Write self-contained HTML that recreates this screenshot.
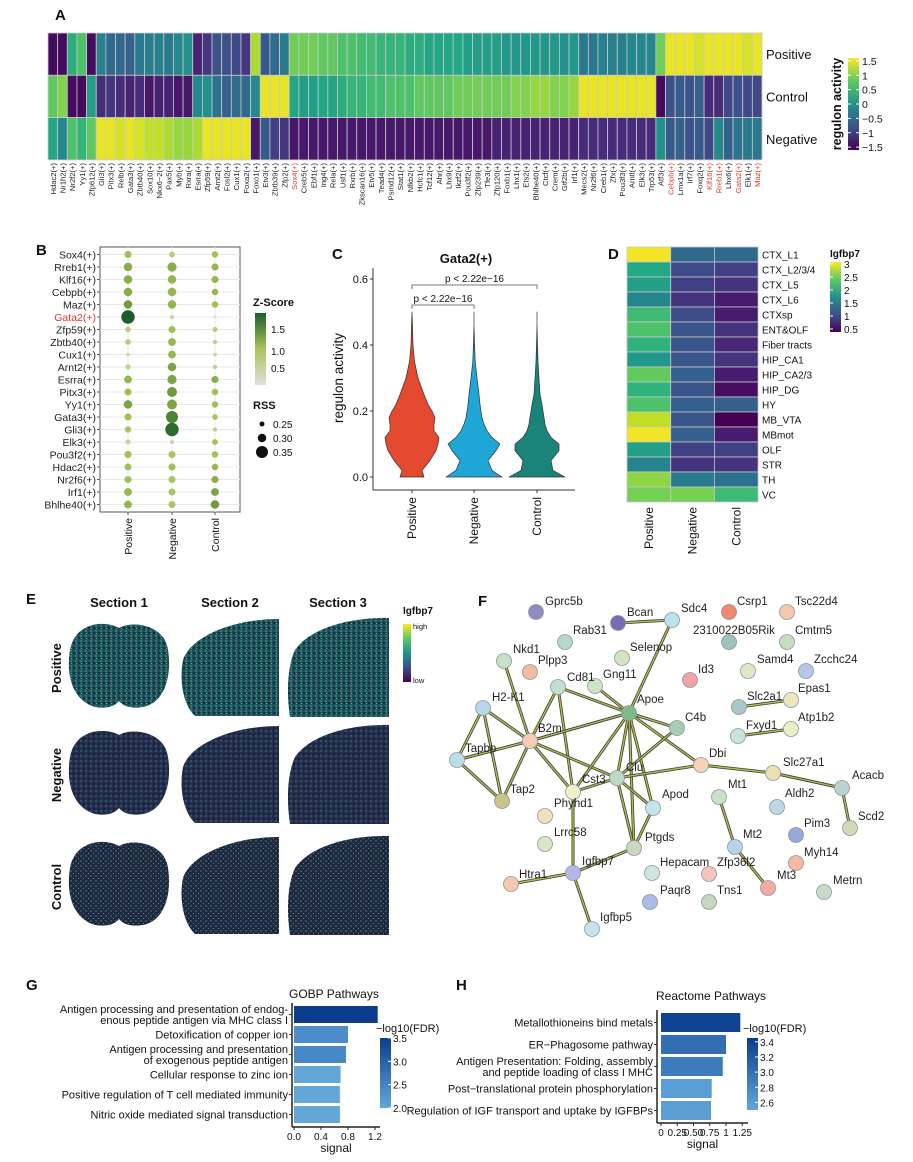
<!DOCTYPE html>
<html><head><meta charset="utf-8">
<style>
html,body{margin:0;padding:0;background:#fff;}
svg{display:block;font-family:"Liberation Sans",Arial,sans-serif;}
</style></head>
<body>
<svg id="fig" width="913" height="1162" viewBox="0 0 913 1162" xmlns="http://www.w3.org/2000/svg">
<defs>
<pattern id="patPos" width="5" height="5" patternUnits="userSpaceOnUse"><rect width="5" height="5" fill="#1f4f5c"/><rect x="0" y="0" width="2" height="2" fill="#2a7f74"/><rect x="3" y="2" width="2" height="2" fill="#1b2a44"/><rect x="1" y="3" width="1" height="1" fill="#58b866"/></pattern>
<pattern id="patNeg" width="5" height="5" patternUnits="userSpaceOnUse"><rect width="5" height="5" fill="#272c4c"/><rect x="0" y="0" width="2" height="2" fill="#22586a"/><rect x="3" y="3" width="2" height="2" fill="#1c1f38"/></pattern>
<pattern id="patCtl" width="5" height="5" patternUnits="userSpaceOnUse"><rect width="5" height="5" fill="#24263f"/><rect x="0" y="0" width="2" height="2" fill="#1f5a66"/><rect x="3" y="3" width="1" height="1" fill="#3f9a6a"/></pattern>
<linearGradient id="gVir" x1="0" y1="1" x2="0" y2="0">
<stop offset="0" stop-color="#440154"/><stop offset="0.25" stop-color="#3b528b"/><stop offset="0.5" stop-color="#21918c"/><stop offset="0.75" stop-color="#5ec962"/><stop offset="1" stop-color="#fde725"/></linearGradient>
<linearGradient id="gGreen" x1="0" y1="1" x2="0" y2="0"><stop offset="0" stop-color="#e0e0e0"/><stop offset="0.5" stop-color="#a8c45a"/><stop offset="1" stop-color="#1b5e2b"/></linearGradient>
<linearGradient id="gBlue" x1="0" y1="1" x2="0" y2="0"><stop offset="0" stop-color="#63a6d8"/><stop offset="1" stop-color="#0b3d8c"/></linearGradient>
</defs>
</svg>
<script>
// ---------- DATA ----------
const aLabels=["Hdac2(+)","Nr1h2(+)","Nr2f2(+)","Yy1(+)","Zfp612(+)","Gli3(+)","Pitx3(+)","Relb(+)","Gata3(+)","Zbtb40(+)","Sox10(+)","Nkx6−2(+)","Pax5(+)","Myb(+)","Rxra(+)","Esrra(+)","Zfp59(+)","Arnt2(+)","Fosl2(+)","Cux1(+)","Foxa2(+)","Foxo1(+)","Etv3(+)","Zbtb39(+)","Zfp2(+)","Sox4(+)","Creb5(+)","Ebf1(+)","Ing4(+)","Rela(+)","Usf1(+)","Rxrb(+)","Zkscan16(+)","Etv5(+)","Tead4(+)","Psmd12(+)","Stat1(+)","Nfkb2(+)","Hcfc1(+)","Tcf12(+)","Ahr(+)","Lhx9(+)","Ikzf2(+)","Pou3f2(+)","Zfp239(+)","Tfe3(+)","Zfp120(+)","Foxb1(+)","Lhx1(+)","Ets2(+)","Bhlhe40(+)","Ctcf(+)","Crem(+)","Gtf2b(+)","Irf1(+)","Mecs2(+)","Nr2f6(+)","Creb1(+)","Zfx(+)","Pou3f3(+)","Arntl(+)","Elk3(+)","Trp53(+)","Atf3(+)","Cebpb(+)","Lmx1a(+)","Irf7(+)","Foxq2(+)","Klf16(+)","Rreb1(+)","Lhx6(+)","Gata2(+)","Elk1(+)","Maz(+)"];
const aRed=["Sox4(+)","Cebpb(+)","Klf16(+)","Rreb1(+)","Gata2(+)","Maz(+)"];
const aRows=["Positive","Control","Negative"];
const aPositive=[-1.5,-1.5,0.4,0.7,-1.5,-0.2,-0.5,-0.5,-0.6,-0.3,-0.2,-0.2,-0.3,-0.1,0.0,-1.3,-1.1,-0.8,-0.8,-0.9,-1.1,1.2,-0.7,-0.5,-0.3,0.9,
0.9,0.9,0.8,0.8,0.7,0.7,0.6,0.6,0.5,0.5,0.5,0.4,0.4,0.3,
0.3,0.3,0.3,0.2,0.2,0.2,0.2,0.1,0.1,0.1,0.1,0.1,0.1,0.0,0.1,
-0.3,-0.3,-0.2,-0.2,-0.2,-0.1,-0.1,-0.1,0.9,
1.5,1.5,1.5,1.4,1.5,1.5,1.5,1.5,1.4,1.5];
const aControl=[0.8,1.0,-1.5,-1.5,0.2,-1.2,-1.1,-1.2,-1.3,-1.2,-1.4,-1.3,-1.3,-1.4,-1.4,-0.1,0.0,-0.4,-0.6,-0.5,-0.5,-0.1,1.5,1.5,1.5,0.3,
0.2,0.2,0.3,0.3,0.4,0.5,0.5,0.6,0.6,0.7,0.7,0.7,0.8,0.8,
0.8,0.8,0.9,0.9,0.9,0.9,0.9,0.9,1.0,1.0,1.1,1.1,1.0,1.0,1.1,
1.5,1.5,1.5,1.5,1.5,1.5,1.5,1.5,-1.5,
-0.8,-0.7,-0.8,-0.6,-1.2,-1.2,-0.9,-0.8,-0.9,-0.9];
const aNegative=[0.3,-0.1,0.7,0.5,0.8,1.5,1.5,1.4,1.5,1.4,1.3,1.3,1.2,1.1,1.1,1.2,1.5,1.5,1.5,1.5,1.5,-1.4,-0.7,-1.0,-1.1,-1.4,
-1.4,-1.4,-1.4,-1.4,-1.4,-1.4,-1.4,-1.4,-1.4,-1.4,-1.4,-1.4,-1.4,-1.4,
-1.4,-1.4,-1.4,-1.4,-1.4,-1.4,-1.3,-1.3,-1.3,-1.3,-1.3,-1.3,-1.3,-1.3,-1.3,
-1.2,-1.2,-1.2,-1.2,-1.2,-1.2,-1.2,-1.2,0.0,
-0.7,-0.6,-0.8,-0.7,-0.9,-0.1,-0.6,-0.4,-0.3,-0.3];
const aTicks=[1.5,1,0.5,0,-0.5,-1,-1.5];

const bRegulons=["Sox4(+)","Rreb1(+)","Klf16(+)","Cebpb(+)","Maz(+)","Gata2(+)","Zfp59(+)","Zbtb40(+)","Cux1(+)","Arnt2(+)","Esrra(+)","Pitx3(+)","Yy1(+)","Gata3(+)","Gli3(+)","Elk3(+)","Pou3f2(+)","Hdac2(+)","Nr2f6(+)","Irf1(+)","Bhlhe40(+)"];
const bGroups=["Positive","Negative","Control"];
const bZPos=[1.0,1.2,1.2,1.2,1.4,1.9,0.7,0.7,0.4,0.6,1.1,1.0,1.3,1.0,0.9,0.5,1.0,1.0,1.0,1.1,1.1];
const bZNeg=[0.7,1.2,1.1,1.1,1.1,0.4,1.0,1.1,1.1,1.3,1.3,1.4,1.3,1.6,1.8,0.4,0.9,1.0,0.9,0.9,0.9];
const bZCtl=[1.0,1.1,1.1,1.1,1.0,0.1,0.7,0.6,0.5,0.6,1.2,1.0,1.0,0.9,0.6,1.0,1.0,1.1,1.2,1.3,1.4];
const bRPos=[0.28,0.30,0.30,0.30,0.30,0.37,0.26,0.26,0.23,0.25,0.29,0.28,0.30,0.28,0.27,0.25,0.28,0.28,0.28,0.29,0.29];
const bRNeg=[0.26,0.31,0.30,0.30,0.30,0.24,0.28,0.29,0.29,0.30,0.31,0.32,0.32,0.35,0.37,0.24,0.28,0.28,0.28,0.28,0.28];
const bRCtl=[0.27,0.28,0.28,0.27,0.27,0.20,0.25,0.24,0.23,0.24,0.28,0.27,0.27,0.26,0.24,0.26,0.27,0.27,0.28,0.29,0.30];

const cGroups=["Positive","Negative","Control"];
const cYGrid=[0,0.02,0.05,0.08,0.10,0.12,0.14,0.16,0.18,0.20,0.22,0.25,0.30,0.35,0.40,0.46,0.50];
const cDensPos=[12,10,18,24,26,27,22,22,23,20,16,12,6,2.5,1,0.5,0];
const cDensNeg=[28,18,14,22,26,18,13,10,8,7,6,5,3,1.2,0.6,0,0];
const cDensCtl=[28,16,14,22,22,14,10,8,7,6,5,3,2,1,0.5,0,0];
const cYTicks=[0.0,0.2,0.4,0.6];

const dRegions=["CTX_L1","CTX_L2/3/4","CTX_L5","CTX_L6","CTXsp","ENT&OLF","Fiber tracts","HIP_CA1","HIP_CA2/3","HIP_DG","HY","MB_VTA","MBmot","OLF","STR","TH","VC"];
const dGroups=["Positive","Negative","Control"];
const dPos=[3.0,2.0,1.9,1.6,2.2,2.3,2.1,1.8,2.4,2.1,2.3,2.8,3.0,1.9,1.6,2.6,2.5];
const dNeg=[1.3,1.0,0.9,0.8,1.0,1.1,1.1,1.1,1.2,1.1,1.2,1.1,1.2,0.9,0.8,1.5,2.5];
const dCtl=[1.3,0.9,0.8,0.6,0.6,0.8,0.7,0.8,0.6,0.5,1.2,0.4,0.6,0.9,0.8,1.4,2.2];
const dTicks=[3,2.5,2,1.5,1,0.5];

const gTerms=[["Antigen processing and presentation of endog-","enous peptide antigen via MHC class I"],["Detoxification of copper ion"],["Antigen processing and presentation","of exogenous peptide antigen"],["Cellular response to zinc ion"],["Positive regulation of T cell mediated immunity"],["Nitric oxide mediated signal transduction"]];
const gSignal=[1.24,0.80,0.77,0.69,0.68,0.68];
const gFDR=[3.5,2.5,2.6,2.0,2.0,2.0];
const gXTicks=[0,0.4,0.8,1.2];
const gXTickLabels=["0.0","0.4","0.8","1.2"];
const gLegTicks=[3.5,3.0,2.5,2.0];

const hTerms=[["Metallothioneins bind metals"],["ER−Phagosome pathway"],["Antigen Presentation: Folding, assembly","and peptide loading of class I MHC"],["Post−translational protein phosphorylation"],["Regulation of IGF transport and uptake by IGFBPs"]];
const hSignal=[1.22,1.0,0.95,0.78,0.77];
const hFDR=[3.4,3.1,3.0,2.6,2.6];
const hXTicks=[0,0.25,0.5,0.75,1,1.25];
const hXTickLabels=["0","0.25","0.50","0.75","1","1.25"];
const hLegTicks=[3.4,3.2,3.0,2.8,2.6];

// network
const fNodes=[["Gprc5b",536,612,"#8f8cc4"],["Bcan",618,623,"#7a6bb5"],["Sdc4",672,620,"#bfe0ef"],["Csrp1",729,612,"#f08a6a"],["Tsc22d4",787,612,"#f7c7b0"],["Rab31",565,642,"#b7d7cf"],["2310022B05Rik",729,642,"#9fc2bc"],["Cmtm5",787,642,"#c7ddbd"],["Selenop",622,658,"#d5e4c0"],["Nkd1",504,661,"#c7dfc8"],["Plpp3",530,672,"#f7b9a0"],["Id3",690,680,"#f4a3a8"],["Samd4",748,671,"#dfe8c5"],["Zcchc24",806,671,"#b8c6ea"],["Cd81",558,687,"#bfe0cf"],["Gng11",595,686,"#cfe3c8"],["Apoe",629,713,"#7fbb8a"],["Slc2a1",739,707,"#a9c7c6"],["Epas1",791,700,"#ece5bd"],["H2-K1",483,708,"#b9d6ea"],["C4b",677,728,"#a8cdb6"],["Fxyd1",738,736,"#c7e3dd"],["Atp1b2",791,729,"#ecedc8"],["B2m",530,741,"#f8cbb3"],["Tapbp",457,760,"#bcdde6"],["Dbi",701,765,"#f9d1b7"],["Slc27a1",773,773,"#ece0b0"],["Clu",617,778,"#bcd8c6"],["Acacb",842,788,"#b9d4d0"],["Phyhd1",573,792,"#f2efcc"],["Mt1",719,797,"#c9e0c6"],["Aldh2",777,807,"#bcd8e4"],["Tap2",502,801,"#c8c48a"],["Apod",653,808,"#c4e3ea"],["Pim3",796,835,"#9aa6e0"],["Scd2",850,828,"#d0dab8"],["N1",545,816,"#f3e0c0"],["Lrrc58",545,844,"#d8e8c5"],["Ptgds",634,848,"#c9d8c0"],["Mt2",735,847,"#b6d3ea"],["Myh14",796,863,"#f8b9a4"],["Igfbp7",573,873,"#b4b8e8"],["Hepacam",652,873,"#cfe5e2"],["Zfp36l2",709,874,"#f7c3be"],["Htra1",511,884,"#f7c7b0"],["Mt3",768,888,"#f6aca4"],["Metrn",824,892,"#c6dcc8"],["Paqr8",650,902,"#a9bbe6"],["Tns1",709,902,"#c7d7c0"],["Igfbp5",592,929,"#c6e2ea"]];
const fLabels=[["Gprc5b",545,605],["Bcan",627,616],["Sdc4",681,612],["Csrp1",737,605],["Tsc22d4",795,605],["Rab31",573,634],["2310022B05Rik",693,634],["Cmtm5",795,634],["Selenop",630,651],["Nkd1",513,653],["Plpp3",538,664],["Id3",698,673],["Samd4",757,663],["Zcchc24",814,663],["Cd81",567,681],["Gng11",603,678],["Epas1",798,692],["H2-K1",492,701],["Apoe",637,703],["Slc2a1",747,700],["C4b",685,721],["Atp1b2",798,721],["Fxyd1",746,729],["B2m",538,732],["Tapbp",465,752],["Dbi",709,757],["Slc27a1",783,766],["Clu",626,771],["Acacb",852,779],["Cst3",582,783],["Tap2",510,793],["Mt1",728,788],["Aldh2",785,797],["Apod",662,798],["Phyhd1",554,807],["Scd2",858,820],["Pim3",804,827],["Lrrc58",554,836],["Ptgds",645,841],["Mt2",743,838],["Myh14",804,856],["Igfbp7",582,865],["Hepacam",660,866],["Zfp36l2",717,866],["Htra1",519,878],["Mt3",777,879],["Metrn",833,884],["Paqr8",660,894],["Tns1",717,894],["Igfbp5",600,921]];
const fEdges=[["Bcan","Sdc4"],["Sdc4","Apoe"],["Nkd1","B2m"],["H2-K1","Tapbp"],["H2-K1","Tap2"],["H2-K1","B2m"],["Tapbp","B2m"],["Tapbp","Tap2"],["B2m","Tap2"],["Cd81","B2m"],["Cd81","Phyhd1"],["Cd81","Apoe"],["B2m","Apoe"],["B2m","Phyhd1"],["B2m","Clu"],["Gng11","Apoe"],["Apoe","C4b"],["Apoe","Dbi"],["Apoe","Clu"],["Apoe","Phyhd1"],["Apoe","Apod"],["Apoe","Ptgds"],["C4b","Clu"],["Clu","Dbi"],["Clu","Phyhd1"],["Clu","Apod"],["Clu","Ptgds"],["Apod","Ptgds"],["Ptgds","Igfbp7"],["Phyhd1","Igfbp7"],["Igfbp7","Htra1"],["Igfbp7","Igfbp5"],["Dbi","Slc27a1"],["Slc27a1","Acacb"],["Acacb","Scd2"],["Mt1","Mt2"],["Mt2","Mt3"],["Slc2a1","Epas1"],["Fxyd1","Atp1b2"]];

// ---------- HELPERS ----------
const NS="http://www.w3.org/2000/svg";
const svg=document.getElementById('fig');
function el(tag,attrs,parent){const e=document.createElementNS(NS,tag);for(const k in attrs)e.setAttribute(k,attrs[k]);(parent||svg).appendChild(e);return e;}
function tx(str,x,y,size,opts,parent){opts=opts||{};const t=el('text',{x:x,y:y,'font-size':size,fill:opts.fill||'#111','text-anchor':opts.anchor||'start','font-weight':opts.weight||'normal'},parent);if(opts.rot!==undefined)t.setAttribute('transform','rotate('+opts.rot+' '+x+' '+y+')');t.textContent=str;return t;}
function hex2rgb(h){return[parseInt(h.substr(1,2),16),parseInt(h.substr(3,2),16),parseInt(h.substr(5,2),16)];}
function interp(stops,t){t=Math.max(0,Math.min(1,t));const n=stops.length-1;const i=Math.min(n-1,Math.floor(t*n));const f=t*n-i;const a=hex2rgb(stops[i]),b=hex2rgb(stops[i+1]);return 'rgb('+a.map((v,k)=>Math.round(v+(b[k]-v)*f)).join(',')+')';}
const VIR=["#440154","#482475","#414487","#355f8d","#2a788e","#21918c","#22a884","#44bf70","#7ad151","#bddf26","#fde725"];
const viridis=t=>interp(VIR,t);

// ---------- PANEL LETTERS ----------
[["A",55,20],["B",36,255],["C",332,259],["D",608,259],["E",26,604],["F",478,606],["G",26,990],["H",456,990]].forEach(p=>{const t=tx(p[0],p[1],p[2],15,{weight:'bold'});

});

// ---------- PANEL A ----------
(function(){
const g=el('g',{});


const x0=48,x1=762,y0=33,rowH=42.3,n=aLabels.length,cw=(x1-x0)/n;
const xA=i=>x0+i*cw;
const cs=v=>viridis((v+1.6)/3.2);
const series=[aPositive,aControl,aNegative];
series.forEach((s,r)=>{s.forEach((v,i)=>{const c=el('rect',{x:xA(i),y:y0+r*rowH,width:cw,height:rowH,fill:cs(v),stroke:'#c8c8c8','stroke-width':0.8},g);

});});
aRows.forEach((r,k)=>{const t=tx(r,766,y0+k*rowH+rowH/2+5,13,{},g);

});
aLabels.forEach((l,i)=>{const t=tx(l,xA(i)+cw/2+3,163,7.6,{anchor:'end',rot:-90,fill:aRed.includes(l)?'#e03a2a':'#222'},g);

});
// legend
const lx=848,ly0=58,ly1=150;
const lb=el('rect',{x:lx,y:ly0,width:11,height:ly1-ly0,fill:'url(#gVir)'},g);


const ly=v=>ly1-(v+1.6)/3.2*(ly1-ly0);
aTicks.forEach(v=>{el('line',{x1:lx,x2:lx+3,y1:ly(v),y2:ly(v),stroke:'#fff'},g);el('line',{x1:lx+8,x2:lx+11,y1:ly(v),y2:ly(v),stroke:'#fff'},g);
const t=tx(String(v).replace('-','−'),lx+14,ly(v)+4,10.5,{},g);

});
const tt=tx('regulon activity',841,104,12.5,{weight:'bold',anchor:'middle',rot:-90},g);


})();

// ---------- PANEL B ----------
(function(){
const g=el('g',{});


const bx0=100,bx1=240,by0=247,by1=512;
const fr=el('rect',{x:bx0,y:by0,width:bx1-bx0,height:by1-by0,fill:'#fff',stroke:'#555','stroke-width':1},g);


const yB=i=>254.5+i*12.5;
const xB=j=>[128,172,215][j];
bGroups.forEach((gname,j)=>{el('line',{x1:xB(j),x2:xB(j),y1:by0,y2:by1,stroke:'#e8e8e8'},g);});
bRegulons.forEach((r,i)=>{el('line',{x1:bx0,x2:bx1,y1:yB(i),y2:yB(i),stroke:'#e8e8e8'},g);
const t=tx(r,96,yB(i)+4,10.5,{anchor:'end',fill:r==='Gata2(+)'?'#e03a2a':'#222'},g);


el('line',{x1:97,x2:bx0,y1:yB(i),y2:yB(i),stroke:'#555'},g);});
const zc=z=>interp(["#e0e0e0","#c6d69a","#a8c45a","#6a9a38","#1b5e2b"],z/1.9);
const rs=r=>Math.max(1.6,2.5+(r-0.25)*35);
[[bZPos,bRPos],[bZNeg,bRNeg],[bZCtl,bRCtl]].forEach((pair,j)=>{pair[0].forEach((z,i)=>{const c=el('circle',{cx:xB(j),cy:yB(i),r:rs(pair[1][i]),fill:zc(z)},g);

});});
bGroups.forEach((gname,j)=>{el('line',{x1:xB(j),x2:xB(j),y1:by1,y2:by1+3,stroke:'#555'},g);
const t=tx(gname,xB(j)+4,by1+6,10.5,{anchor:'end',rot:-90},g);

});
const zt=tx('Z-Score',253,306,11,{weight:'bold'},g);


const zb=el('rect',{x:255,y:313,width:11,height:72,fill:'url(#gGreen)'},g);


[[1.5,329],[1.0,351],[0.5,368]].forEach(a=>{tx(a[0].toFixed(1),271,a[1]+4,10,{},g);});
const rt=tx('RSS',253,409,11,{weight:'bold'},g);


[[0.25,424],[0.30,438],[0.35,452]].forEach(a=>{const c=el('circle',{cx:262,cy:a[1],r:rs(a[0]),fill:'#111'},g);


tx(a[0].toFixed(2),273,a[1]+4,10,{},g);});
})();

// ---------- PANEL C ----------
(function(){
const g=el('g',{});


const ax0=373,ax1=575,yZero=477,ppu=(477-279)/0.6;
const yC=v=>yZero-v*ppu;
const xC=j=>[412,474,537][j];
const cols=["#e34a2f","#1ea6d6","#1a847a"];
[cDensPos,cDensNeg,cDensCtl].forEach((d,j)=>{let right=[],left=[];cYGrid.forEach((yv,k)=>{right.push((xC(j)+d[k]).toFixed(1)+','+yC(yv).toFixed(1));left.unshift((xC(j)-d[k]).toFixed(1)+','+yC(yv).toFixed(1));});
const p=el('polygon',{points:right.concat(left).join(' '),fill:cols[j],stroke:'#333','stroke-width':0.7,'stroke-linejoin':'round'},g);

});
el('line',{x1:ax0,x2:ax0,y1:268,y2:490,stroke:'#333'},g);
el('line',{x1:ax0,x2:ax1,y1:490,y2:490,stroke:'#333'},g);
cYTicks.forEach(v=>{el('line',{x1:ax0-3,x2:ax0,y1:yC(v),y2:yC(v),stroke:'#333'},g);
const t=tx(v.toFixed(1),ax0-5,yC(v)+4,11,{anchor:'end'},g);

});
cGroups.forEach((n,j)=>{el('line',{x1:xC(j),x2:xC(j),y1:490,y2:493,stroke:'#333'},g);
const t=tx(n,xC(j)+4,497,12,{anchor:'end',rot:-90},g);

});
const yt=tx('regulon activity',343,378,13.5,{anchor:'middle',rot:-90},g);


const ti=tx('Gata2(+)',466,263,13,{anchor:'middle',weight:'bold'},g);


[[412,537,285,'p < 2.22e−16'],[412,474,305,'p < 2.22e−16']].forEach(b=>{const p=el('path',{d:'M'+b[0]+','+(b[2]+4)+' V'+b[2]+' H'+b[1]+' V'+(b[2]+4),fill:'none',stroke:'#777'},g);


tx(b[3],(b[0]+b[1])/2,b[2]-3,10,{anchor:'middle'},g);});
})();

// ---------- PANEL D ----------
(function(){
const g=el('g',{});


const x0=627,cw=43.7,y0=247,rh=15;
const cs=v=>viridis((v-0.4)/2.65);
[dPos,dNeg,dCtl].forEach((s,j)=>{s.forEach((v,i)=>{const c=el('rect',{x:x0+j*cw,y:y0+i*rh,width:cw,height:rh,fill:cs(v),stroke:'#c8c8c8','stroke-width':0.8},g);

});});
dRegions.forEach((r,i)=>{const t=tx(r,762,y0+i*rh+rh/2+4,10,{},g);

});
dGroups.forEach((n,j)=>{const t=tx(n,x0+j*cw+cw/2+4,507,12,{anchor:'end',rot:-90},g);

});
const tt=tx('Igfbp7',830,257,10,{weight:'bold'},g);


const lb=el('rect',{x:830,y:262,width:11,height:70,fill:'url(#gVir)'},g);


const ly=v=>329-(v-0.5)/2.5*65;
dTicks.forEach(v=>{el('line',{x1:830,x2:833,y1:ly(v),y2:ly(v),stroke:'#fff'},g);tx(String(v),844,ly(v)+4,10,{},g);});
})();

// ---------- PANEL E ----------
(function(){
const g=el('g',{});


['Section 1','Section 2','Section 3'].forEach((s,k)=>{const t=tx(s,[119,230,338][k],607,13,{anchor:'middle',weight:'bold'},g);

});
[['Positive',668],['Negative',775],['Control',887]].forEach(r=>{const t=tx(r[0],61,r[1],13,{anchor:'middle',weight:'bold',rot:-90},g);

});
const s1=(dy)=>'M119,'+(628+dy)+' C105,'+(620+dy)+' 75,'+(622+dy)+' 70,'+(650+dy)+' C66,'+(675+dy)+' 72,'+(700+dy)+' 95,'+(707+dy)+' C108,'+(709+dy)+' 115,'+(706+dy)+' 119,'+(701+dy)+' C123,'+(706+dy)+' 130,'+(709+dy)+' 143,'+(707+dy)+' C165,'+(703+dy)+' 172,'+(675+dy)+' 168,'+(650+dy)+' C165,'+(625+dy)+' 133,'+(620+dy)+' 119,'+(628+dy)+' Z';
const s2=(dy)=>'M279,'+(619+dy)+' L279,'+(716+dy)+' L195,'+(716+dy)+' C183,'+(705+dy)+' 179,'+(680+dy)+' 183,'+(660+dy)+' C190,'+(638+dy)+' 230,'+(619+dy)+' 279,'+(619+dy)+' Z';
const s3=(dy)=>'M389,'+(618+dy)+' L389,'+(717+dy)+' L290,'+(717+dy)+' C286,'+(690+dy)+' 288,'+(665+dy)+' 295,'+(650+dy)+' C310,'+(628+dy)+' 350,'+(617+dy)+' 389,'+(618+dy)+' Z';
[['url(#patPos)',0,'positive'],['url(#patNeg)',107,'negative'],['url(#patCtl)',218,'control']].forEach(r=>{[s1,s2,s3].forEach((f,k)=>{const p=el('path',{d:f(r[1]),fill:r[0]},g);

});});
const lt=tx('Igfbp7',403,614,10,{weight:'bold'},g);


const lb=el('rect',{x:403,y:624,width:8,height:58,fill:'url(#gVir)'},g);


tx('high',413,629,7.5,{},g);tx('low',413,683,7.5,{},g);
})();

// ---------- PANEL F ----------
(function(){
const g=el('g',{});


const pos={};fNodes.forEach(n=>pos[n[0]]=[n[1],n[2]]);
fEdges.forEach(e=>{const a=pos[e[0]],b=pos[e[1]];
el('line',{x1:a[0],y1:a[1],x2:b[0],y2:b[1],stroke:'#3b3a4f','stroke-width':3},g);
const l=el('line',{x1:a[0],y1:a[1],x2:b[0],y2:b[1],stroke:'#b4c03a','stroke-width':1.4},g);

});
fNodes.forEach(n=>{const c=el('circle',{cx:n[1],cy:n[2],r:7.5,fill:n[3],stroke:'#8a9a9a','stroke-width':0.8},g);

});
fLabels.forEach(l=>{const t=tx(l[0],l[1],l[2],11.5,{fill:'#222'},g);

});
})();

// ---------- BAR PANELS ----------
function barPanel(o){
const g=el('g',{});


const xs=v=>o.x0+v*o.ppu;
const cs=v=>interp(["#63a6d8","#3f80c0","#0b3d8c"],(v-o.fmin)/(o.fmax-o.fmin));
o.signal.forEach((v,i)=>{const r=el('rect',{x:xs(0),y:o.y0+i*o.step,width:xs(v)-xs(0),height:o.bh,fill:cs(o.fdr[i])},g);


const cy=o.y0+i*o.step+o.bh/2;
el('line',{x1:o.ax-3,x2:o.ax,y1:cy,y2:cy,stroke:'#333'},g);
const lines=o.terms[i];
lines.forEach((s,k)=>{const t=tx(s,o.ax-4,cy+4+(k-(lines.length-1)/2)*11,11,{anchor:'end'},g);

});});
el('line',{x1:o.ax,x2:o.ax,y1:o.y0-3,y2:o.axY,stroke:'#222','stroke-width':1.5},g);
el('line',{x1:o.ax,x2:o.axX1,y1:o.axY,y2:o.axY,stroke:'#222','stroke-width':1.5},g);
o.ticks.forEach((v,k)=>{el('line',{x1:xs(v),x2:xs(v),y1:o.axY,y2:o.axY+3,stroke:'#222'},g);
const t=tx(o.tickLabels[k],xs(v),o.axY+13,10,{anchor:'middle'},g);

});
const xt=tx('signal',(o.ax+o.axX1)/2,o.axY+25,12,{anchor:'middle'},g);


const tt=tx(o.title,o.tx,o.ty,12,{},g);


const lt=tx('−log10(FDR)',o.lx-4,o.ly0-6,11,{},g);


const lb=el('rect',{x:o.lx,y:o.ly0,width:11,height:o.ly1-o.ly0,fill:'url(#gBlue)'},g);


const ly=v=>o.ly1-(v-o.fmin)/(o.fmax-o.fmin)*(o.ly1-o.ly0);
o.legTicks.forEach(v=>{el('line',{x1:o.lx+8,x2:o.lx+11,y1:ly(v),y2:ly(v),stroke:'#fff'},g);tx(v.toFixed(1),o.lx+13,ly(v)+4,10,{},g);});
}
barPanel({name:'panel-g-gobp',terms:gTerms,signal:gSignal,fdr:gFDR,x0:294,ppu:67.5,y0:1006,step:20,bh:17,ax:292,axY:1127,axX1:380,ticks:gXTicks,tickLabels:gXTickLabels,title:'GOBP Pathways',tx:289,ty:998,lx:380,ly0:1038,ly1:1108,fmin:2.0,fmax:3.5,legTicks:gLegTicks});
barPanel({name:'panel-h-reactome',terms:hTerms,signal:hSignal,fdr:hFDR,x0:661,ppu:65,y0:1013,step:22,bh:19,ax:657,axY:1123,axX1:748,ticks:hXTicks,tickLabels:hXTickLabels,title:'Reactome Pathways',tx:656,ty:1000,lx:747,ly0:1038,ly1:1110,fmin:2.5,fmax:3.45,legTicks:hLegTicks});
</script>
</body></html>
